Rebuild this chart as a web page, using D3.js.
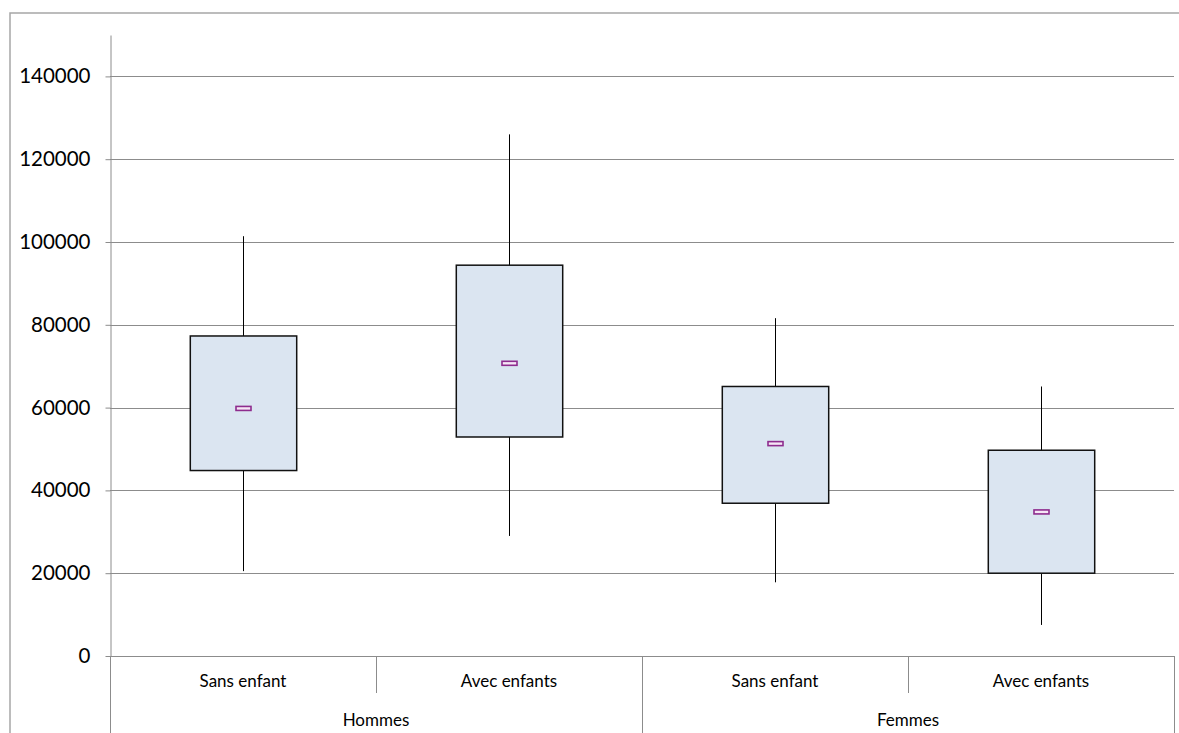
<!DOCTYPE html>
<html><head><meta charset="utf-8">
<script src="https://cdn.jsdelivr.net/npm/d3@7"></script>
<style>body{margin:0;background:#fff;}svg{display:block;font-family:Lato,"Open Sans",sans-serif;}</style>
</head><body>
<svg id="c" width="1179" height="733"></svg>
<script>
const groups = ["Hommes", "Femmes"];
const subcats = ["Sans enfant", "Avec enfants", "Sans enfant", "Avec enfants"];
const whiskerLow = [20500, 29000, 17800, 7500];
const q1 = [44800, 52900, 36900, 20000];
const median = [59800, 70700, 51300, 34800];
const q3 = [77300, 94400, 65100, 49700];
const whiskerHigh = [101400, 126000, 81600, 65100];
const yTicks = [0, 20000, 40000, 60000, 80000, 100000, 120000, 140000];

const svg = d3.select("#c");
const L = 110, R = 1174, T = 35, B = 656;
const keys = subcats.map((d, i) => i);
const x = d3.scaleBand().domain(keys).range([L, R]).padding(0);
const y = d3.scaleLinear().domain([0, 150000]).range([B, T]);

// outer border
svg.append("rect").attr("x", 10).attr("y", 13).attr("width", 1200).attr("height", 800)
  .attr("fill", "none").attr("stroke", "#a6a6a6").attr("stroke-width", 1.5);

// gridlines
svg.append("g").selectAll("line").data(yTicks).join("line")
  .attr("x1", L).attr("x2", R).attr("y1", d => Math.round(y(d)) + 0.5).attr("y2", d => Math.round(y(d)) + 0.5)
  .attr("stroke", "#8c8c8c").attr("stroke-width", 1);

// y axis
const ya = svg.append("g").attr("transform", `translate(${L + 0.5},0)`)
  .call(d3.axisLeft(y).tickValues(yTicks).tickFormat(d3.format("d")).tickSize(5).tickSizeOuter(0).tickPadding(15));
ya.select(".domain").attr("stroke", "#8c8c8c");
ya.selectAll(".tick line").attr("stroke", "#8c8c8c");
ya.selectAll(".tick text").attr("font-size", 20.5).attr("fill", "#000").attr("font-family", "Lato, 'Open Sans', sans-serif");

// category separators
const sepOuter = [L, x(2), R];
svg.append("g").selectAll("line").data(sepOuter).join("line")
  .attr("x1", d => Math.round(d) + 0.5).attr("x2", d => Math.round(d) + 0.5)
  .attr("y1", B).attr("y2", 733).attr("stroke", "#8c8c8c");
const sepInner = [x(1), x(3)];
svg.append("g").selectAll("line").data(sepInner).join("line")
  .attr("x1", d => Math.round(d) + 0.5).attr("x2", d => Math.round(d) + 0.5)
  .attr("y1", B).attr("y2", 693).attr("stroke", "#8c8c8c");

// category labels
svg.append("g").selectAll("text").data(keys).join("text")
  .attr("x", d => x(d) + x.bandwidth() / 2).attr("y", 687)
  .attr("text-anchor", "middle").attr("font-size", 17).attr("fill", "#000")
  .text(d => subcats[d]);
svg.append("g").selectAll("text").data(groups).join("text")
  .attr("x", (d, i) => (x(i * 2) + x(i * 2 + 1) + x.bandwidth()) / 2).attr("y", 726)
  .attr("text-anchor", "middle").attr("font-size", 17).attr("fill", "#000")
  .text(d => d);

// boxes
const bw = x.bandwidth() * 0.4;
const g = svg.append("g");
keys.forEach(i => {
  const cx = Math.round(x(i) + x.bandwidth() / 2) + 0.5;
  g.append("line").attr("x1", cx).attr("x2", cx)
    .attr("y1", y(whiskerLow[i])).attr("y2", y(whiskerHigh[i]))
    .attr("stroke", "#000").attr("stroke-width", 1);
  g.append("rect").attr("x", cx - bw / 2).attr("y", y(q3[i]))
    .attr("width", bw).attr("height", y(q1[i]) - y(q3[i]))
    .attr("fill", "#dbe5f1").attr("stroke", "#111").attr("stroke-width", 1.5);
  g.append("rect").attr("x", cx - 7.5).attr("y", y(median[i]) - 2)
    .attr("width", 15).attr("height", 4)
    .attr("fill", "#f6e6f6").attr("stroke", "#8e2c8e").attr("stroke-width", 1.6);
});
</script>
</body></html>
